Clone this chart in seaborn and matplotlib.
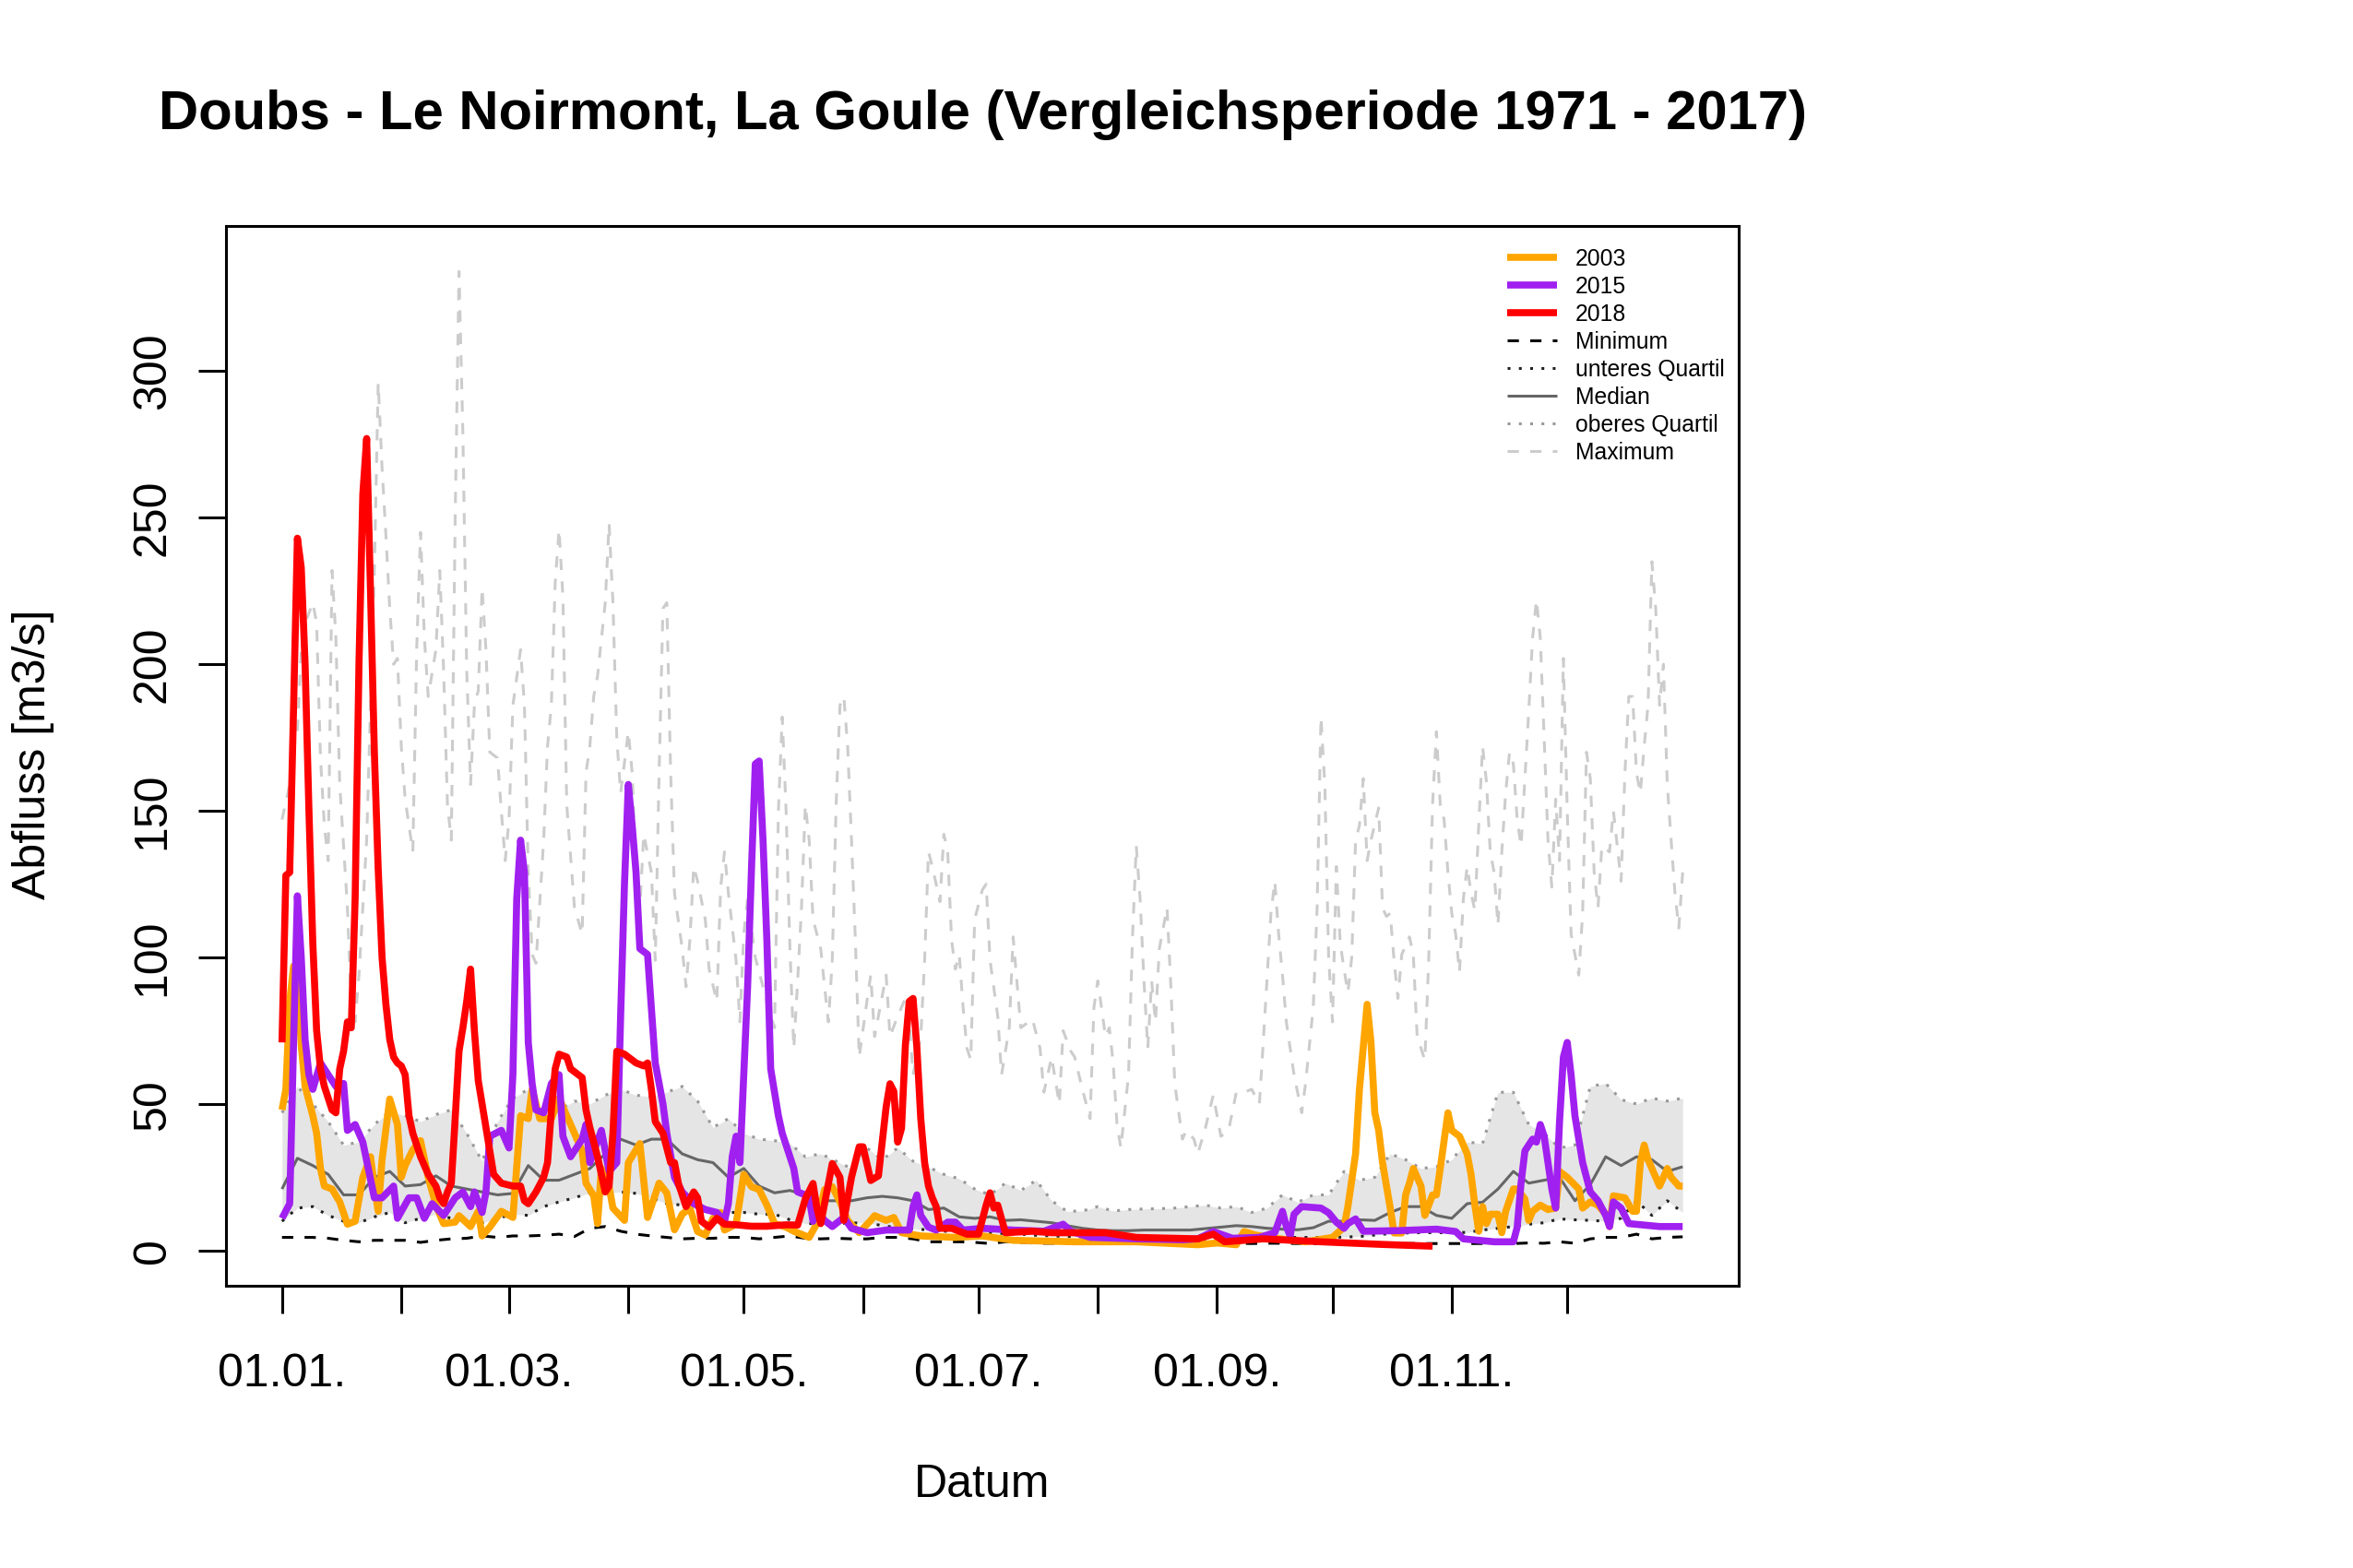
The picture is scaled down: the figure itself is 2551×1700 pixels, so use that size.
import numpy as np
import pandas as pd
import matplotlib
matplotlib.use("Agg")
import matplotlib.pyplot as plt
from matplotlib.lines import Line2D
import seaborn as sns

# ---------------- data (day of year 0 = 01.01.) ----------------
month_days = [0, 31, 59, 90, 120, 151, 181, 212, 243, 273, 304, 334]
month_labels = ["01.01.", "", "01.03.", "", "01.05.", "", "01.07.", "", "01.09.", "", "01.11.", ""]
y_ticks = [0, 50, 100, 150, 200, 250, 300]

stat_days = list(range(0, 365, 4))
min_vals = [4.5, 4.5, 4.5, 4.2, 3.5, 3.0, 3.5, 3.5, 3.5, 2.8,
            3.5, 4.0, 4.2, 5.0, 4.5, 5.0, 5.0, 5.2, 5.6, 4.8,
            7.6, 8.2, 6.6, 5.6, 5.0, 4.5, 4.0, 4.2, 4.2, 4.5,
            4.5, 4.0, 4.5, 5.0, 4.2, 4.0, 4.2, 4.0, 4.0, 4.5,
            4.5, 4.0, 3.0, 3.0, 3.0, 2.8, 2.4, 3.0, 2.8, 2.5,
            2.5, 2.5, 2.5, 2.4, 2.4, 2.4, 2.4, 2.4, 2.4, 2.4,
            2.5, 2.5, 2.5, 2.4, 2.5, 2.5, 2.4, 2.4, 2.4, 2.5,
            2.5, 2.4, 2.5, 2.4, 2.4, 2.4, 2.4, 2.4, 2.4, 2.4,
            2.4, 2.6, 2.5, 3.0, 2.5, 4.0, 4.5, 4.5, 5.6, 4.0,
            4.5, 4.7]
q25_vals = [10, 14.5, 15, 12, 10, 9.5, 11.5, 13, 9.5, 11,
            12.4, 11, 10, 9.5, 11, 12.4, 12, 15, 16.6, 18,
            19.7, 19.7, 20, 19.5, 18, 16, 15.5, 14, 13, 13,
            13, 12.4, 12.4, 10.5, 9.2, 9.2, 9.2, 9.4, 9.5, 8.5,
            7.8, 7.5, 7, 6.6, 6.5, 6.2, 6, 5.8, 5.6, 5.2,
            5, 4.8, 4.7, 4.5, 4.5, 4.4, 4.3, 4.2, 4.1, 4,
            4, 4.3, 4.4, 4.5, 4.5, 4.5, 4.5, 4.5, 4.5, 4.6,
            4.8, 5.3, 5.8, 6, 6.1, 6.1, 6.1, 6.2, 7, 7.6,
            8.2, 9, 9.5, 10.8, 10.5, 10.3, 10, 11, 17, 12,
            17, 13]
median_vals = [21, 31.5, 29, 26, 19, 19, 25, 27, 22, 22.5,
               25.5, 22, 21, 20, 19, 19.5, 29, 24, 24, 26,
               28, 33, 38, 36, 38, 38, 33, 31, 30, 25,
               28, 22, 19.7, 20.5, 19, 17, 17, 17, 18, 18.5,
               18, 17, 14, 14.5, 11.5, 11, 11.5, 10.3, 10.5, 10,
               9.5, 8.5, 7.6, 7, 6.8, 6.8, 7, 7, 7, 7,
               7.5, 8, 8.5, 8.2, 7.6, 7.3, 7.1, 7.8, 10, 10,
               10.5, 10.3, 13, 15, 15, 12, 11, 16, 16.5, 21,
               27, 23, 24, 25, 17, 22.5, 32, 29, 32, 31,
               27, 28.6]
q75_vals = [47, 56, 50, 44, 36, 37, 43, 47.5, 46, 44,
            46.4, 48, 40, 30.5, 44, 52, 55, 44, 48, 51,
            50, 53, 55, 53, 52.5, 54, 56, 51, 42, 45,
            40, 38, 37.5, 36.5, 32, 33, 30.5, 28, 35, 31,
            35, 30.5, 28.5, 26, 24.5, 21, 19, 23, 20.5, 24,
            17, 13.4, 13.5, 15, 13.5, 14, 14.2, 14.3, 14.5, 15,
            15.5, 14.5, 15, 13, 14.5, 19, 16.5, 19, 19, 27,
            24, 25, 33, 31, 28, 28.6, 31, 37, 36.5, 54,
            54, 43, 40, 35, 36, 56, 57, 51.5, 50, 52,
            51, 52]

max_days = [0, 2, 3, 4, 5, 6, 8, 9, 10, 11, 12, 13, 14, 15, 17, 18, 19, 20, 22, 24,
            25, 26, 27, 28, 29, 30, 31, 32, 34, 35, 36, 37, 38, 40, 41, 42, 43, 44, 45, 46,
            47, 48, 49, 50, 51, 52, 53, 54, 56, 57, 58, 59, 60, 62, 63, 64, 65, 66, 68, 69,
            70, 71, 72, 73, 74, 76, 78, 79, 80, 81, 82, 84, 85, 86, 87, 88, 90, 91, 92, 93,
            94, 96, 97, 98, 99, 100, 101, 102, 104, 105, 106, 107, 108, 110, 111, 113, 114, 115, 116, 118,
            119, 120, 121, 123, 125, 127, 128, 129, 130, 131, 132, 133, 134, 135, 136, 137, 138, 140, 141, 142,
            143, 144, 145, 146, 147, 148, 149, 150, 152, 153, 154, 156, 157, 158, 160, 162, 163, 164, 166, 167,
            168, 169, 171, 172, 173, 174, 175, 176, 177, 178, 179, 180, 182, 183, 184, 186, 187, 189, 190, 192,
            193, 195, 197, 198, 200, 202, 203, 205, 206, 208, 210, 211, 212, 214, 215, 216, 217, 218, 220, 221,
            222, 223, 224, 225, 226, 227, 228, 230, 231, 232, 234, 235, 237, 238, 240, 242, 244, 246, 248, 250,
            252, 254, 255, 257, 258, 259, 260, 261, 263, 265, 266, 268, 269, 270, 271, 272, 273, 274, 275, 276,
            277, 278, 279, 280, 281, 282, 283, 285, 286, 287, 288, 289, 290, 291, 293, 294, 295, 297, 298, 299,
            300, 301, 302, 303, 304, 305, 306, 307, 308, 309, 310, 311, 312, 313, 314, 315, 316, 317, 318, 319,
            320, 321, 322, 323, 324, 325, 326, 327, 328, 329, 330, 331, 332, 333, 334, 335, 336, 337, 338, 339,
            340, 341, 342, 343, 345, 346, 347, 348, 349, 350, 351, 352, 353, 354, 355, 356, 357, 358, 359, 360,
            361, 362, 363, 364]
max_vals = [147, 159, 172, 177, 205, 214, 221, 214, 168, 145, 133, 232, 209, 159, 117, 83, 78, 94, 140, 232,
            296, 267, 244, 219, 200, 202, 172, 154, 136, 205, 245, 209, 189, 205, 232, 198, 152, 140, 250, 334,
            279, 198, 159, 186, 191, 226, 205, 170, 168, 150, 133, 147, 186, 205, 186, 129, 101, 98, 140, 172,
            186, 228, 246, 223, 152, 117, 108, 163, 172, 189, 196, 221, 248, 221, 175, 156, 177, 163, 129, 117,
            142, 129, 99, 163, 219, 221, 163, 122, 103, 90, 106, 131, 126, 113, 96, 85, 124, 136, 122, 99,
            78, 108, 120, 100, 90, 80, 76, 150, 182, 150, 103, 69, 92, 117, 152, 140, 113, 103, 90, 78,
            99, 152, 186, 189, 172, 140, 106, 66, 85, 94, 73, 87, 94, 73, 80, 86, 78, 60, 73, 99,
            136, 131, 119, 142, 136, 106, 96, 101, 83, 69, 65, 113, 123, 125, 99, 80, 60, 76, 107, 76,
            77, 79, 69, 54, 66, 50, 75, 68, 66, 55, 45, 83, 92, 73, 76, 64, 43, 35, 60, 106,
            138, 120, 92, 69, 92, 78, 103, 117, 90, 57, 38, 41, 38, 33, 42, 53, 39, 41, 54, 54,
            55, 50, 71, 115, 126, 108, 94, 78, 60, 47, 57, 83, 117, 182, 159, 100, 78, 131, 105, 96,
            88, 100, 140, 145, 161, 133, 140, 151, 117, 114, 115, 99, 86, 101, 107, 101, 73, 65, 99, 152,
            177, 152, 147, 129, 115, 108, 95, 120, 131, 122, 116, 145, 172, 160, 136, 129, 111, 136, 156, 170,
            166, 147, 138, 161, 184, 209, 222, 209, 175, 140, 124, 154, 133, 202, 150, 108, 101, 94, 115, 170,
            161, 129, 117, 138, 136, 150, 138, 126, 163, 189, 189, 163, 156, 172, 186, 235, 219, 186, 200, 159,
            140, 122, 110, 129]

y2003_days = [0, 1, 2, 3, 4, 5, 6, 8, 9, 10, 11, 13, 15, 17, 19, 21, 23, 24, 25, 26,
              28, 30, 31, 32, 34, 36, 38, 40, 42, 45, 46, 49, 51, 52, 54, 57, 60, 62, 64, 65,
              67, 70, 72, 75, 78, 79, 81, 82, 83, 85, 86, 89, 90, 93, 95, 98, 100, 102, 104, 106,
              108, 110, 112, 114, 115, 118, 120, 122, 124, 126, 128, 131, 133, 137, 139, 141, 143, 145, 147, 150,
              153, 154, 157, 159, 161, 166, 175, 182, 190, 206, 222, 238, 243, 248, 250, 253, 258, 266, 273, 276,
              277, 279, 280, 282, 283, 284, 285, 286, 288, 289, 291, 292, 293, 294, 296, 297, 299, 300, 301, 303,
              304, 306, 308, 309, 310, 311, 312, 313, 314, 316, 317, 318, 320, 321, 323, 324, 325, 327, 329, 331,
              332, 334, 337, 338, 340, 342, 344, 345, 346, 349, 351, 352, 353, 354, 355, 357, 358, 360, 361, 363,
              364]
y2003_vals = [48, 55, 85, 97, 95, 70, 56, 46, 40, 28, 22, 21, 16.6, 9, 10, 25, 32, 22, 13.4, 31,
              51.7, 43, 25, 29, 34.4, 37.5, 25, 15.5, 9.2, 9.7, 11.9, 8.2, 13.4, 5, 8, 13.4, 11.3, 46, 45, 55,
              45, 45, 52, 43, 34, 23, 18.7, 9.2, 28, 21.8, 14.5, 10.3, 30, 36.5, 11.3, 23, 19.7, 7.1, 12.4, 14.5,
              6.5, 5.3, 11, 13, 7, 9, 26, 21.8, 20.8, 15.5, 9.2, 8, 6.6, 4.5, 9.2, 20.8, 21.8, 16.6, 10.3, 6.1,
              10.3, 11.9, 10.3, 11.3, 6.1, 5, 4.5, 5, 3.5, 3, 3, 2, 2.6, 2, 6.5, 5.3, 4.2, 3, 4.5, 8,
              15, 33, 55, 84, 71, 47, 41, 30, 14.5, 6, 6, 19, 23, 28, 22, 12, 19, 19, 28, 47,
              41, 39, 33, 26, 15.5, 6.6, 15, 9.2, 12.4, 12.4, 6.1, 13.4, 21, 21, 17.6, 10.3, 13.4, 15.5, 14, 14.5,
              27, 25, 21, 14.5, 16.6, 15.5, 12.4, 8.2, 18.7, 18, 13.4, 13.4, 30, 36, 31, 25, 22, 28, 25, 22,
              22]

y2015_days = [0, 2, 3, 4, 5, 6, 7, 8, 10, 11, 14, 16, 17, 19, 21, 24, 26, 29, 30, 33,
              35, 37, 39, 42, 45, 47, 49, 50, 52, 53, 54, 57, 59, 60, 61, 62, 63, 64, 65, 66,
              68, 70, 72, 73, 75, 78, 79, 80, 83, 85, 87, 88, 89, 90, 91, 92, 93, 95, 97, 98,
              99, 100, 102, 104, 107, 110, 113, 115, 116, 117, 118, 119, 120, 121, 122, 123, 124, 125, 126, 127,
              129, 130, 131, 133, 134, 136, 137, 138, 139, 141, 143, 146, 148, 152, 157, 163, 164, 165, 166, 168,
              170, 173, 175, 177, 182, 190, 198, 203, 205, 210, 222, 234, 238, 242, 247, 254, 258, 260, 261, 262,
              263, 265, 268, 270, 272, 274, 276, 277, 279, 281, 290, 300, 305, 307, 315, 320, 321, 322, 323, 325,
              326, 327, 328, 329, 330, 331, 332, 333, 334, 335, 336, 338, 340, 342, 344, 345, 346, 348, 350, 354,
              358, 364]
y2015_vals = [11, 16, 71, 121, 100, 72, 60, 55, 64, 62, 56, 57, 41, 43, 37, 18, 18, 22, 11, 18,
              18, 11, 16, 12, 18, 20, 15, 20, 13, 20, 39, 41, 35, 60, 120, 140, 129, 71, 57, 48,
              47, 57, 60, 39, 32, 38, 43, 30, 41, 27, 30, 80, 125, 159, 145, 129, 103, 101, 64, 57,
              50, 40, 25, 20, 16, 14, 13, 10, 16, 32, 39, 30, 60, 90, 130, 166, 167, 140, 106, 62,
              46, 40, 36, 28, 20, 19, 18, 10, 13.4, 10.3, 8.2, 11.3, 7.6, 6.1, 7, 7, 15, 19, 12, 8,
              7, 9.7, 9.7, 7, 7.6, 7, 6.6, 9, 6.6, 4.5, 4, 3.7, 4, 6.5, 4.2, 4.5, 6.1, 13.4, 8.2, 5,
              12.4, 15, 14.7, 14.5, 12.9, 9.7, 7.6, 9.2, 10.8, 6.6, 6.8, 7.3, 6.5, 4, 3, 3, 8, 23, 34, 38,
              37, 43, 39, 30, 21, 14.5, 44, 66, 71, 60, 46, 30, 20, 17, 12, 8.2, 16.6, 14.5, 9.2, 8.7,
              8.2, 8.2]

y2018_days = [0, 1, 2, 3, 4, 5, 6, 7, 8, 9, 10, 11, 12, 13, 14, 15, 16, 17, 18, 19,
              20, 21, 22, 23, 24, 25, 26, 27, 28, 29, 30, 31, 32, 33, 34, 36, 38, 40, 41, 42,
              43, 44, 45, 46, 47, 48, 49, 50, 51, 52, 53, 54, 55, 57, 60, 62, 63, 64, 66, 68,
              69, 70, 71, 72, 74, 75, 77, 78, 79, 80, 82, 83, 84, 85, 86, 87, 89, 92, 94, 95,
              96, 97, 99, 101, 102, 103, 105, 107, 108, 109, 111, 113, 115, 118, 122, 126, 131, 134, 136, 138,
              139, 140, 142, 143, 145, 146, 148, 150, 151, 153, 155, 157, 158, 159, 160, 161, 162, 163, 164, 165,
              166, 167, 168, 169, 170, 171, 174, 178, 181, 183, 184, 185, 186, 188, 195, 200, 214, 222, 238, 242,
              245, 255, 270, 286, 299]
y2018_vals = [71, 128, 129, 185, 243, 233, 200, 150, 105, 75, 62, 56, 52, 48, 47, 62, 68, 78, 76, 120,
              200, 258, 277, 225, 170, 130, 100, 84, 72, 66, 64, 63, 60, 46, 40, 32, 26, 22, 18, 16,
              20, 23, 45, 68, 76, 85, 96, 75, 58, 50, 42, 34, 26, 23, 22, 22, 17, 16, 20, 25,
              30, 48, 62, 67, 66, 62, 60, 59, 48, 42, 32, 26, 20, 22, 40, 68, 67, 64, 63, 64,
              55, 44, 40, 30, 30, 23, 15, 20, 18, 10, 8, 11, 9, 8.8, 8.3, 8.3, 8.8, 8.7, 17.6, 22.9,
              14.5, 9.2, 22.9, 29.7, 25, 10.3, 25, 35.4, 35.4, 23.9, 25.5, 49, 56.9, 54.3, 37, 41.7, 70, 85, 86, 69,
              45, 30, 22, 18, 15, 7.6, 7.6, 5.6, 5.6, 15.5, 19.7, 14.5, 15.5, 6.1, 6.6, 6.1, 6.1, 4.5, 4, 5.6,
              3, 4, 3, 2.1, 1.5]

years = ["2003", "2015", "2018"]
year_colors = ["#FFA500", "#A020F0", "#FF0000"]
stat_labels = ["Minimum", "unteres Quartil", "Median", "oberes Quartil", "Maximum"]

# ---------------- style ----------------
sns.set_theme(style="white")
plt.rcParams["font.family"] = ["Liberation Sans", "DejaVu Sans"]
plt.rcParams["text.color"] = "black"
plt.rcParams["axes.labelcolor"] = "black"
plt.rcParams["xtick.color"] = "black"
plt.rcParams["ytick.color"] = "black"
plt.rcParams["lines.solid_capstyle"] = "butt"
plt.rcParams["lines.dash_capstyle"] = "butt"

W, H = 2551, 1700
fig = plt.figure(figsize=(W / 100, H / 100), dpi=100)
fig.patch.set_facecolor("white")
L, R, B, T = 245, 1885, 1394, 245
ax = fig.add_axes([L / W, 1 - B / H, (R - L) / W, (B - T) / H])
ax.set_facecolor("white")

thin = 2.2
thick = 5.5
stat_df = pd.DataFrame({"day": stat_days, "min": min_vals, "q25": q25_vals,
                        "median": median_vals, "q75": q75_vals})

ax.fill_between(stat_df["day"], stat_df["q25"], stat_df["q75"], color="#E5E5E5", lw=0, zorder=1)

sns.lineplot(x=max_days, y=max_vals, ax=ax, color="#CCCCCC", lw=thin, estimator=None,
             sort=False, zorder=2).lines[-1].set_dashes([4, 4])
sns.lineplot(data=stat_df, x="day", y="q75", ax=ax, color="#999999", lw=thin,
             estimator=None, sort=False, zorder=3).lines[-1].set_dashes([1, 3])
sns.lineplot(data=stat_df, x="day", y="median", ax=ax, color="#666666", lw=thin,
             estimator=None, sort=False, zorder=3)
sns.lineplot(data=stat_df, x="day", y="q25", ax=ax, color="#222222", lw=thin,
             estimator=None, sort=False, zorder=3).lines[-1].set_dashes([1, 3])
sns.lineplot(data=stat_df, x="day", y="min", ax=ax, color="#000000", lw=thin,
             estimator=None, sort=False, zorder=3).lines[-1].set_dashes([4, 4])

for days, vals, col in [(y2003_days, y2003_vals, year_colors[0]),
                        (y2015_days, y2015_vals, year_colors[1]),
                        (y2018_days, y2018_vals, year_colors[2])]:
    sns.lineplot(x=days, y=vals, ax=ax, color=col, lw=thick, estimator=None, sort=False, zorder=5)

ax.set_xlim(-14.56, 378.56)
ax.set_ylim(-12, 349.5)
ax.set_xticks(month_days)
ax.set_xticklabels(month_labels)
ax.set_yticks(y_ticks)
ax.set_yticklabels([str(v) for v in y_ticks], rotation=90, va="center")
ax.tick_params(axis="both", direction="out", length=21.5, width=thin, color="black",
               labelsize=36, labelcolor="black", bottom=True, left=True)
ax.tick_params(axis="x", pad=31)
ax.tick_params(axis="y", pad=19)
for sp in ax.spines.values():
    sp.set_visible(True)
    sp.set_color("black")
    sp.set_linewidth(thin)
ax.set_xlabel("")
ax.set_ylabel("")
ax.grid(False)

fig.text((L + R) / 2 / W, 1 - 125 / H,
         "Doubs - Le Noirmont, La Goule (Vergleichsperiode 1971 - 2017)",
         ha="center", va="center", fontsize=43, fontweight="bold", color="black")
fig.text((L + R) / 2 / W, 1 - 1610 / H, "Datum", ha="center", va="center", fontsize=36,
         color="black")
fig.text(36 / W, 1 - 818 / H, "Abfluss [m3/s]", ha="center", va="center", fontsize=36,
         rotation=90, color="black")

handles = [Line2D([], [], color=c, lw=thick) for c in year_colors]
handles += [Line2D([], [], color="#000000", lw=thin, dashes=[4, 4]),
            Line2D([], [], color="#222222", lw=thin, dashes=[1, 3]),
            Line2D([], [], color="#666666", lw=thin),
            Line2D([], [], color="#999999", lw=thin, dashes=[1, 3]),
            Line2D([], [], color="#CCCCCC", lw=thin, dashes=[4, 4])]
leg = ax.legend(handles, years + stat_labels, loc="upper left",
                bbox_to_anchor=((1634 - L) / (R - L), (B - 269) / (B - T)),
                frameon=False, fontsize=17.8, handlelength=2.2, handletextpad=0.8,
                labelspacing=0.24, borderpad=0, borderaxespad=0)
for t in leg.get_texts():
    t.set_color("black")

fig.savefig("out.png", dpi=100, facecolor="white")
